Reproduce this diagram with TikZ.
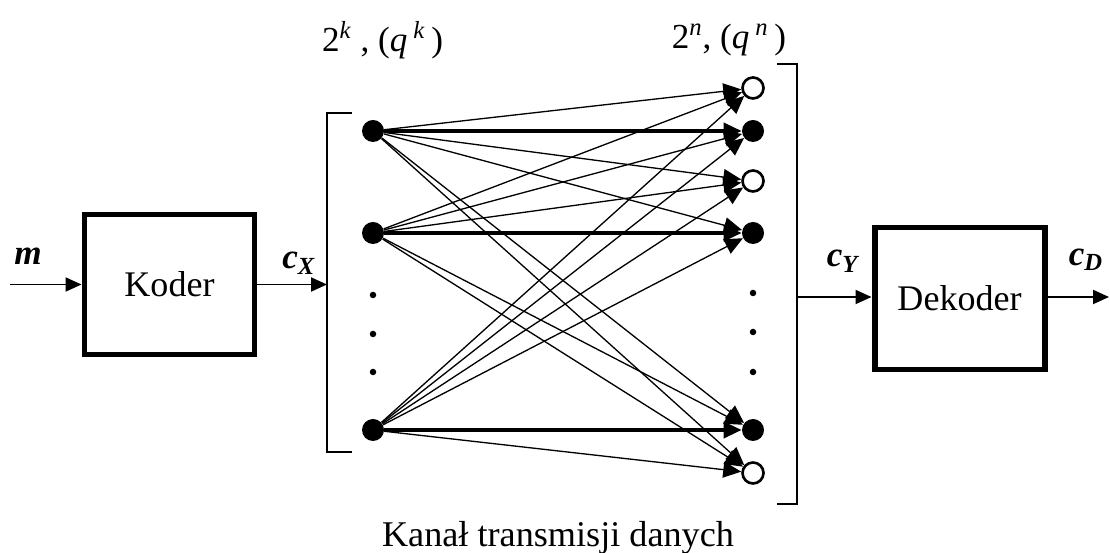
\documentclass[tikz,border=0pt]{standalone}
\usepackage{fontspec}
\setmainfont{Liberation Serif}
\usetikzlibrary{arrows.meta}

\begin{document}
\begin{tikzpicture}[
  blk/.style={draw, line width=3.4pt, minimum width=3.4cm, minimum height=2.8cm, font=\fontsize{20.5}{24}\selectfont},
  fdot/.style={circle, fill, inner sep=0pt, minimum size=0.44cm},
  odot/.style={circle, draw, line width=1.5pt, inner sep=0pt, minimum size=0.42cm},
  lbl/.style={font=\fontsize{20}{24}\selectfont},
  sig/.style={-{Triangle[length=0.32cm, width=0.28cm]}, line width=1.1pt},
  ch/.style={-{Triangle[length=0.36cm, width=0.32cm]}, line width=0.75pt},
  chb/.style={-{Triangle[length=0.36cm, width=0.32cm]}, line width=2.1pt},
  brk/.style={line width=1.2pt},
]
\useasboundingbox (0,0) rectangle (22.2,11.06);

\node[blk] (koder) at (3.39,5.37) {Koder};
\node[blk, minimum height=2.84cm] (dekoder) at (19.19,5.09) {Dekoder};

% channel input / output symbols
\node[fdot] (l1) at (7.46,8.44) {};
\node[fdot] (l2) at (7.46,6.40) {};
\node[fdot] (l3) at (7.46,2.46) {};

\node[odot] (r1) at (15.06,9.30) {};
\node[fdot] (r2) at (15.06,8.44) {};
\node[odot] (r3) at (15.06,7.44) {};
\node[fdot] (r4) at (15.06,6.40) {};
\node[fdot] (r5) at (15.06,2.46) {};
\node[odot] (r6) at (15.06,1.60) {};

\fill (7.46,5.16) circle (0.065);
\fill (7.46,4.38) circle (0.065);
\fill (7.46,3.62) circle (0.065);
\fill (15.06,5.20) circle (0.065);
\fill (15.06,4.42) circle (0.065);
\fill (15.06,3.62) circle (0.065);

% brackets
\draw[brk] (7.04,8.80) -- (6.54,8.80) -- (6.54,2.02) -- (7.04,2.02);
\draw[brk] (15.54,9.78) -- (15.94,9.78) -- (15.94,0.98) -- (15.54,0.98);
\coordinate (lbr) at (6.54,5.37);
\coordinate (rbr) at (15.94,5.12);
\coordinate (in) at (0.2,5.37);
\coordinate (out) at (22.18,5.12);

\draw[ch] (l1) -- (r1);
\draw[chb] (l1) -- (r2);
\draw[ch] (l1) -- (r3);
\draw[ch] (l1) -- (r4);
\draw[ch] (l1) -- (r5);
\draw[ch] (l1) -- (r6);

\draw[ch] (l2) -- (r1);
\draw[ch] (l2) -- (r2);
\draw[ch] (l2) -- (r3);
\draw[chb] (l2) -- (r4);
\draw[ch] (l2) -- (r5);
\draw[ch] (l2) -- (r6);

\draw[ch] (l3) -- (r1);
\draw[ch] (l3) -- (r2);
\draw[ch] (l3) -- (r3);
\draw[ch] (l3) -- (r4);
\draw[chb] (l3) -- (r5);
\draw[ch] (l3) -- (r6);

\draw[sig] (in) -- (koder.west);
\draw[sig] (koder.east) -- (koder.east -| lbr);
\draw[sig] (rbr) -- (rbr -| dekoder.west);
\draw[sig] (rbr -| dekoder.east) -- (out);

\node[lbl] (m) at (0.56,5.94) {\textbf{\textit{m}}};
\node[lbl] (cx) at (5.98,5.80) {\textbf{\textit{c}\textsubscript{\textit{X}}}};
\node[lbl] (cy) at (16.87,5.84) {\textbf{\textit{c}\textsubscript{\textit{Y}}}};
\node[lbl] (cd) at (21.72,5.86) {\textbf{\textit{c}\textsubscript{\textit{D}}}};
\node[lbl] (nk) at (7.65,10.26) {2\textsuperscript{\textit{k}} , (\textit{q}\,\textsuperscript{\textit{k}}\,)};
\node[lbl] (nn) at (14.58,10.26) {2\textsuperscript{\textit{n}}, (\textit{q}\,\textsuperscript{\textit{n}}\,)};
\node[font=\fontsize{20.6}{24}\selectfont] (kanal) at (11.16,0.30) {Kanał transmisji danych};

\end{tikzpicture}
\end{document}
